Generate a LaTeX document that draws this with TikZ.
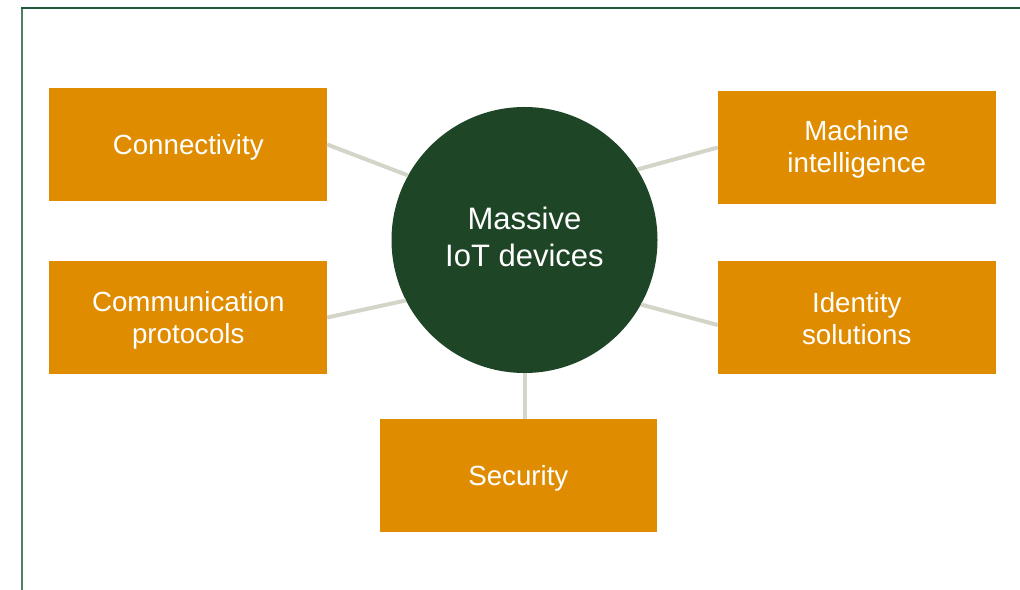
\documentclass[tikz,border=0pt]{standalone}
\usepackage{fontspec}
\setmainfont{Liberation Sans}
\definecolor{hubgreen}{HTML}{1E4526}
\definecolor{tileorange}{HTML}{E08C00}
\definecolor{spokegrey}{HTML}{D3D5C9}
\definecolor{frametop}{HTML}{24583A}
\definecolor{frameleft}{HTML}{4F7F5F}
\tikzset{
  tile/.style={rectangle, fill=tileorange, inner sep=0pt,
    minimum width=277.5bp, minimum height=113bp},
  tiletext/.style={text=white, inner sep=0pt, align=center,
    font=\fontsize{27.7bp}{32bp}\selectfont},
  hub/.style={circle, fill=hubgreen, inner sep=0pt, minimum size=266bp},
  hubtext/.style={text=white, inner sep=0pt, align=center,
    font=\fontsize{31bp}{37bp}\selectfont},
  spoke/.style={draw=spokegrey, line width=4bp},
}
\begin{document}
\begin{tikzpicture}[x=1bp, y=-1bp]
  \useasboundingbox (0,0) rectangle (1020,590);

  % frame lines along the left and top edges
  \coordinate (fbl) at (22,590);
  \coordinate (ftl) at (22,7.6);
  \coordinate (ftr) at (1020,7.6);
  \draw[frameleft, line width=2bp] (fbl) -- (ftl);
  \draw[frametop, line width=2bp] ([xshift=-1bp]ftl) -- (ftr);

  % central hub
  \node[hub] (hub) at (524.5,240) {};
  \node[hubtext] (hub-t) at ([yshift=3bp]hub.center) {Massive\\IoT devices};

  % surrounding tiles
  \node[tile] (conn)  at (188.25,144.5) {};
  \node[tile] (comm)  at (188.25,317.5) {};
  \node[tile] (mach)  at (856.75,147.5) {};
  \node[tile] (ident) at (856.75,317.5) {};
  \node[tile] (sec)   at (518.3,475.8)  {};

  % tile captions
  \node[tiletext] (conn-t)  at ([yshift=-3bp]conn.center)    {Connectivity};
  \node[tiletext] (comm-t)  at ([yshift=-2.5bp]comm.center)  {Communication\\protocols};
  \node[tiletext] (mach-t)  at ([yshift=-2bp]mach.center)    {Machine\\intelligence};
  \node[tiletext] (ident-t) at ([yshift=-1.5bp]ident.center) {Identity\\solutions};
  \node[tiletext] (sec-t)   at ([yshift=-2.5bp]sec.center)   {Security};

  % spokes from the hub to each tile
  \draw[spoke] (hub.151)   -- (conn.east);
  \draw[spoke] (hub.207.8) -- (comm.east);
  \draw[spoke] (hub.32.4)  -- (mach.west);
  \draw[spoke] (hub.-29)   -- ([yshift=-7.5bp]ident.west);
  \draw[spoke] (hub.south) -- (hub.south |- sec.north);
\end{tikzpicture}
\end{document}
